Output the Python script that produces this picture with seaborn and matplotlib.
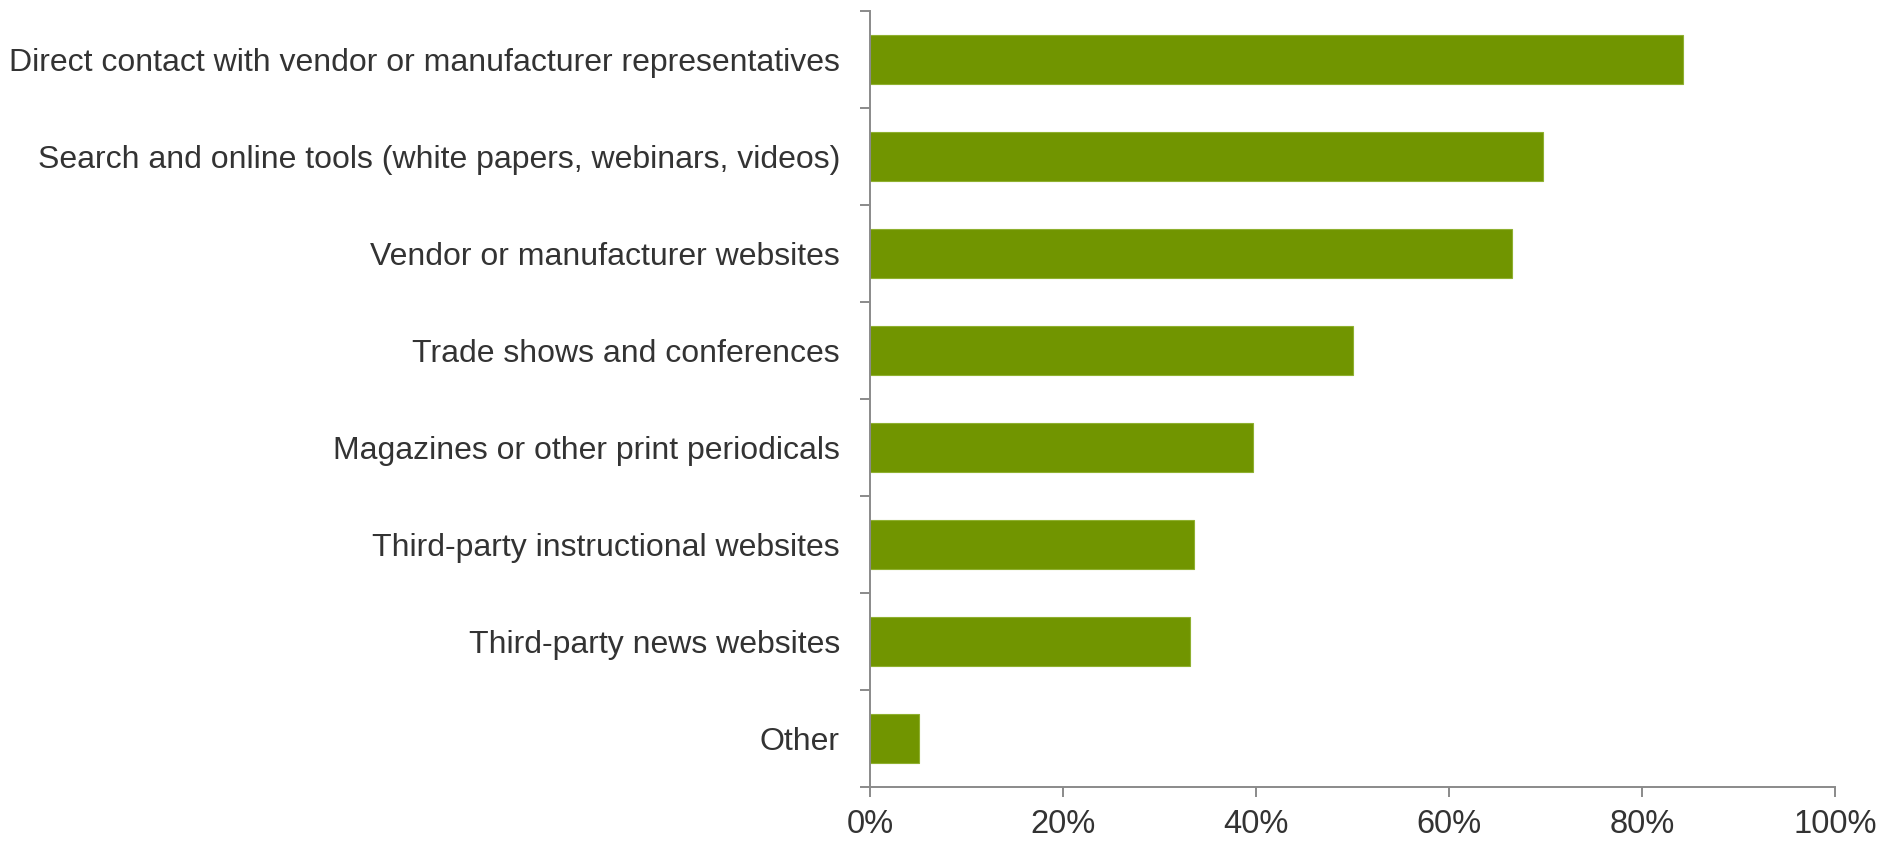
import matplotlib
matplotlib.use("Agg")
import matplotlib.pyplot as plt
import seaborn as sns
import pandas as pd
from matplotlib.ticker import FixedLocator, PercentFormatter

sources = [
    "Direct contact with vendor or manufacturer representatives",
    "Search and online tools (white papers, webinars, videos)",
    "Vendor or manufacturer websites",
    "Trade shows and conferences",
    "Magazines or other print periodicals",
    "Third-party instructional websites",
    "Third-party news websites",
    "Other",
]
shares = [84.2, 69.7, 66.5, 50.0, 39.7, 33.6, 33.2, 5.1]
x_ticks = [0, 20, 40, 60, 80, 100]

df = pd.DataFrame({"source": sources, "share": shares})

sns.set_theme(style="white")
plt.rcParams["font.family"] = ["Liberation Sans", "DejaVu Sans"]

BAR = "#719500"
AXIS = "#8a8a8a"
TEXT = "#333333"

fig = plt.figure(figsize=(19.02, 8.43), dpi=100)
ax = fig.add_axes([0.4574, 0.0664, 0.5074, 0.9206])

sns.barplot(data=df, x="share", y="source", orient="h", color=BAR,
            width=0.5, saturation=1, edgecolor="#8fb030", linewidth=0.8, ax=ax)

ax.set_xlim(0, 100)
ax.set_ylim(len(sources) - 0.5, -0.5)
ax.set_xlabel("")
ax.set_ylabel("")

ax.set_xticks(x_ticks)
ax.xaxis.set_major_formatter(PercentFormatter(decimals=0))
ax.tick_params(axis="x", length=7.2, width=1.4, color=AXIS, direction="out",
               labelsize=23.5, labelcolor=TEXT, pad=8.6, bottom=True)

# category labels at bar centres, tick marks at category boundaries
ax.set_yticks(range(len(sources)))
ax.set_yticklabels(sources)
ax.tick_params(axis="y", which="major", length=0, labelsize=23,
               labelcolor=TEXT, pad=21.6)
ax.yaxis.set_minor_locator(FixedLocator([i - 0.5 for i in range(len(sources) + 1)]))
ax.tick_params(axis="y", which="minor", length=7.2, width=1.4, color=AXIS,
               direction="out", left=True)

for side in ("top", "right"):
    ax.spines[side].set_visible(False)
for side in ("left", "bottom"):
    ax.spines[side].set_color(AXIS)
    ax.spines[side].set_linewidth(1.4)

fig.savefig("out.png", dpi=100)
